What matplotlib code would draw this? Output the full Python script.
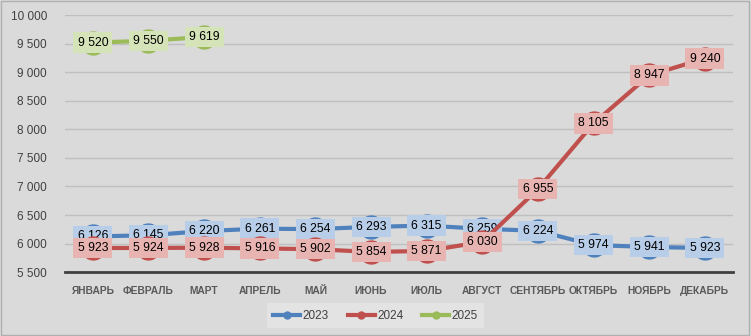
import matplotlib
matplotlib.use("Agg")
import matplotlib.pyplot as plt
from matplotlib.lines import Line2D

months = ["ЯНВАРЬ", "ФЕВРАЛЬ", "МАРТ", "АПРЕЛЬ", "МАЙ", "ИЮНЬ", "ИЮЛЬ",
          "АВГУСТ", "СЕНТЯБРЬ", "ОКТЯБРЬ", "НОЯБРЬ", "ДЕКАБРЬ"]
s2023 = [6126, 6145, 6220, 6261, 6254, 6293, 6315, 6259, 6224, 5974, 5941, 5923]
s2024 = [5923, 5924, 5928, 5916, 5902, 5854, 5871, 6030, 6955, 8105, 8947, 9240]
s2025 = [9520, 9550, 9619]
yticks = [5500, 6000, 6500, 7000, 7500, 8000, 8500, 9000, 9500, 10000]

plt.rcParams['font.family'] = ['Liberation Sans', 'DejaVu Sans']

def fmt(v):
    return f"{v:,}".replace(",", " ")

fig = plt.figure(figsize=(7.51, 3.36), dpi=100, facecolor="#dadada")
ax = fig.add_axes([0.0866, 0.190, 0.889, 0.765])
ax.set_facecolor("#dadada")

series = [
    ("2023", s2023, "#4f81bd", "#b7cde8"),
    ("2024", s2024, "#c0504d", "#e8b4b2"),
    ("2025", s2025, "#9bbb59", "#d5e3b9"),
]
x_all = list(range(len(months)))
for z, (name, vals, col, lab) in enumerate(series):
    xs = x_all[:len(vals)]
    ax.plot(xs, vals, color=col, lw=3, marker="o", ms=16.5, mfc=col, mec=col,
            zorder=2 + z * 2, solid_capstyle="round")
    for x, v in zip(xs, vals):
        ax.text(x, v, fmt(v), ha="center", va="center", fontsize=8.8, color="black",
                zorder=3 + z * 2,
                bbox=dict(boxstyle="square,pad=0.35", fc=lab, ec="none"))

ax.set_xlim(-0.5, 11.5)
ax.set_ylim(5500, 10000)
ax.set_yticks(yticks)
ax.set_yticklabels([fmt(t) for t in yticks], fontsize=8.5, color="#404040")
ax.set_xticks(x_all)
ax.set_xticklabels(months, fontsize=7.4, color="#595959", fontweight="bold")
ax.tick_params(length=0)
ax.tick_params(axis="x", pad=10)
ax.tick_params(axis="y", pad=13)
ax.grid(axis="y", color="#bfbfbf", lw=1)
ax.set_axisbelow(True)
for s in ["left", "right", "top"]:
    ax.spines[s].set_visible(False)
ax.spines["bottom"].set_color("#404040")
ax.spines["bottom"].set_linewidth(2)

handles = [Line2D([0], [0], color=c, lw=3, marker="o", ms=5) for _, _, c, _ in series]
leg = fig.legend(handles, [s[0] for s in series], loc="center", bbox_to_anchor=(0.5, 0.06),
                 ncol=3, frameon=True, fontsize=8.5, handlelength=2.3, columnspacing=1.6,
                 handletextpad=0.2, borderpad=0.55, fancybox=False)
leg.get_frame().set_facecolor("#e6e6e6")
leg.get_frame().set_edgecolor("none")
for t in leg.get_texts():
    t.set_color("#404040")

fig.patches.append(plt.Rectangle((0.001, 0.002), 0.997, 0.995, transform=fig.transFigure,
                                 fill=False, ec="#b0b0b0", lw=1))
fig.savefig("out.png", dpi=100, facecolor=fig.get_facecolor())
